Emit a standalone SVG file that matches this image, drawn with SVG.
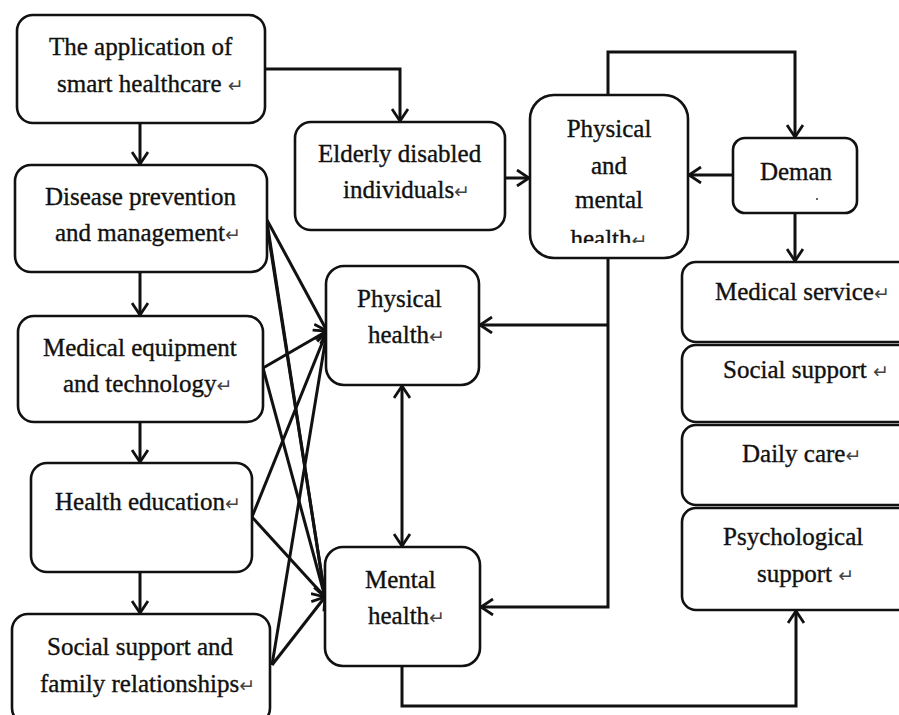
<svg xmlns="http://www.w3.org/2000/svg" width="899" height="715" viewBox="0 0 899 715">
<style>
.box{fill:#fff;stroke:#111;stroke-width:2.6}
.t{font-family:"Liberation Serif","Times New Roman",serif;font-size:25px;fill:#111;stroke:#111;stroke-width:0.35}
.r{font-family:"DejaVu Sans",sans-serif;font-size:19px;fill:#444;stroke:none}
.c{fill:none;stroke:#111;stroke-width:3}
</style>
<defs>
<marker id="ah" viewBox="0 0 14 18" refX="13" refY="9" markerWidth="14" markerHeight="18" markerUnits="userSpaceOnUse" orient="auto-start-reverse">
<path d="M1,1 L13,9 L1,17" fill="none" stroke="#111" stroke-width="2.8"/>
</marker>
<clipPath id="pmclip"><rect x="530" y="95" width="158" height="148"/></clipPath>
</defs>
<rect width="899" height="715" fill="#fff"/>

<g id="connectors">
<path class="c" d="M140,123 V164" marker-end="url(#ah)"/>
<path class="c" d="M140,272 V315" marker-end="url(#ah)"/>
<path class="c" d="M140,422 V462" marker-end="url(#ah)"/>
<path class="c" d="M140,572 V613" marker-end="url(#ah)"/>
<path class="c" d="M265,69 H400 V121" marker-end="url(#ah)"/>
<path class="c" d="M505,178 H529" marker-end="url(#ah)"/>
<path class="c" d="M608,95 V52 H795 V137" marker-end="url(#ah)"/>
<path class="c" d="M733,175 H689" marker-end="url(#ah)"/>
<path class="c" d="M795,213 V261" marker-end="url(#ah)"/>
<path class="c" d="M608,258 V607 H481" marker-end="url(#ah)"/>
<path class="c" d="M608,325 H480" marker-end="url(#ah)"/>
<path class="c" d="M402,386 V546" marker-start="url(#ah)" marker-end="url(#ah)"/>
<path class="c" d="M402,666 V706 H796 V611" marker-end="url(#ah)"/>
<path class="c" d="M267,220 L327,331" marker-end="url(#ah)"/>
<path class="c" d="M267,222 L325,597" marker-end="url(#ah)"/>
<path class="c" d="M267,226 L324,590"/>
<path class="c" d="M263,368 L327,331" marker-end="url(#ah)"/>
<path class="c" d="M263,368 L325,597" marker-end="url(#ah)"/>
<path class="c" d="M252,517 L327,331" marker-end="url(#ah)"/>
<path class="c" d="M252,517 L325,597" marker-end="url(#ah)"/>
<path class="c" d="M272,665 L327,331" marker-end="url(#ah)"/>
<path class="c" d="M272,665 L325,597" marker-end="url(#ah)"/>
</g>

<g id="n-app">
<rect class="box" x="17" y="15" width="248" height="108" rx="16"/>
<text class="t" x="49" y="55">The application of</text>
<text class="t" x="57" y="92">smart healthcare <tspan class="r">↵</tspan></text>
</g>
<g id="n-disease">
<rect class="box" x="15" y="165" width="252" height="107" rx="16"/>
<text class="t" x="45" y="205">Disease prevention</text>
<text class="t" x="55" y="241">and management<tspan class="r">↵</tspan></text>
</g>
<g id="n-equip">
<rect class="box" x="18" y="316" width="245" height="106" rx="16"/>
<text class="t" x="43" y="356">Medical equipment</text>
<text class="t" x="63" y="392">and technology<tspan class="r">↵</tspan></text>
</g>
<g id="n-edu">
<rect class="box" x="31" y="463" width="221" height="109" rx="16"/>
<text class="t" x="55" y="510">Health education<tspan class="r">↵</tspan></text>
</g>
<g id="n-social">
<rect class="box" x="12" y="614" width="258" height="110" rx="16"/>
<text class="t" x="47" y="655">Social support and</text>
<text class="t" x="40" y="692">family relationships<tspan class="r">↵</tspan></text>
</g>
<g id="n-elderly">
<rect class="box" x="295" y="122" width="210" height="108" rx="16"/>
<text class="t" x="318" y="162">Elderly disabled</text>
<text class="t" x="343" y="198">individuals<tspan class="r">↵</tspan></text>
</g>
<g id="n-pm">
<rect class="box" x="530" y="95" width="158" height="163" rx="24"/>
<g clip-path="url(#pmclip)">
<text class="t" x="609" y="137" text-anchor="middle">Physical</text>
<text class="t" x="609" y="174" text-anchor="middle">and</text>
<text class="t" x="609" y="208" text-anchor="middle">mental</text>
<text class="t" x="609" y="247" text-anchor="middle">health<tspan class="r">↵</tspan></text>
</g>
</g>
<g id="n-deman">
<rect class="box" x="733" y="138" width="124" height="75" rx="12"/>
<text class="t" x="796" y="180" text-anchor="middle">Deman</text>
<circle cx="817" cy="199" r="1" fill="#333"/>
</g>
<g id="n-phys">
<rect class="box" x="326" y="266" width="153" height="119" rx="18"/>
<text class="t" x="357" y="307">Physical</text>
<text class="t" x="368" y="343">health<tspan class="r">↵</tspan></text>
</g>
<g id="n-mental">
<rect class="box" x="325" y="547" width="155" height="119" rx="18"/>
<text class="t" x="365" y="588">Mental</text>
<text class="t" x="368" y="624">health<tspan class="r">↵</tspan></text>
</g>
<g id="n-medsvc">
<rect class="box" x="682" y="262" width="240" height="80" rx="14"/>
<text class="t" x="715" y="300">Medical service<tspan class="r">↵</tspan></text>
</g>
<g id="n-socsup">
<rect class="box" x="682" y="345" width="240" height="77" rx="14"/>
<text class="t" x="723" y="378">Social support <tspan class="r">↵</tspan></text>
</g>
<g id="n-daily">
<rect class="box" x="682" y="425" width="240" height="80" rx="14"/>
<text class="t" x="742" y="462">Daily care<tspan class="r">↵</tspan></text>
</g>
<g id="n-psych">
<rect class="box" x="682" y="508" width="240" height="102" rx="14"/>
<text class="t" x="723" y="545">Psychological</text>
<text class="t" x="757" y="582">support <tspan class="r">↵</tspan></text>
</g>
</svg>
